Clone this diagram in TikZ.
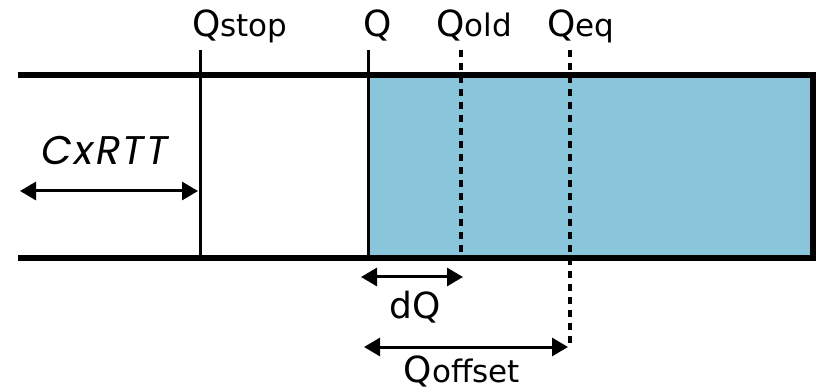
\documentclass[tikz,border=0pt]{standalone}
\usepackage{fontspec}
\setmainfont{DejaVu Sans}
\newfontfamily\italfont{Poppins}[LetterSpace=6]
\usetikzlibrary{arrows.meta}
\definecolor{queuefill}{RGB}{137,198,219}
% a queue variable: large Q followed by a smaller tag on the same baseline
\newcommand\qvar[1]{{\fontsize{36}{36}\selectfont Q}{\fontsize{31}{31}\selectfont #1}}
\begin{document}
\begin{tikzpicture}[x=1pt,y=-1pt,
  wall/.style={line width=6.5pt, line join=miter},
  marker/.style={line width=3pt},
  dashmark/.style={line width=3.2pt, dash pattern=on 7pt off 6pt},
  dim/.style={line width=3pt, {Triangle[length=16pt,width=18pt]}-{Triangle[length=16pt,width=18pt]}},
  lbl/.style={inner sep=0pt, anchor=base}
]
\useasboundingbox (0,0) rectangle (817,390);

% queue outline corners
\coordinate (tl) at (18,75);
\coordinate (tr) at (813,75);
\coordinate (br) at (813,258);
\coordinate (bl) at (18,258);

% marker end points
\coordinate (stopT) at (200,50);  \coordinate (stopB) at (200,258);
\coordinate (qT)    at (368,50);  \coordinate (qB)    at (368,258);
\coordinate (oldT)  at (461,50);  \coordinate (oldB)  at (461,258);
\coordinate (eqT)   at (570,50);  \coordinate (eqB)   at (570,343);

% occupied part of the queue
\fill[queuefill] (368,75) rectangle (br);

% queue walls
\draw[wall] (tl) -- (tr) -- (br) -- (bl);

% position markers
\draw[marker] (stopT) -- (stopB);
\draw[marker] (qT) -- (qB);
\draw[dashmark] (oldT) -- (oldB);
\draw[dashmark] (eqT) -- (eqB);

% labels over the markers
\node[lbl] (lstop) at (240,37) {\qvar{stop}};
\node[lbl] (lq)    at (378,37) {\fontsize{36}{36}\selectfont Q};
\node[lbl] (lold)  at (474,37) {\qvar{old}};
\node[lbl] (leq)   at (581,37) {\qvar{eq}};

% dimension arrows
\coordinate (rttL) at (20,191);  \coordinate (rttR) at (198,191);
\coordinate (dqL)  at (361,277); \coordinate (dqR)  at (463,277);
\coordinate (offL) at (364,347); \coordinate (offR) at (568,347);
\draw[dim] (rttL) -- (rttR);
\draw[dim] (dqL) -- (dqR);
\draw[dim] (offL) -- (offR);

\node[lbl] (lrtt) at (105,165) {\italfont\itshape\fontsize{40}{40}\selectfont CxRTT};
\node[lbl] (ldq)  at (415,318) {\fontsize{36}{36}\selectfont dQ};
\node[lbl] (loff) at (462,382) {\qvar{offset}};
\end{tikzpicture}
\end{document}
